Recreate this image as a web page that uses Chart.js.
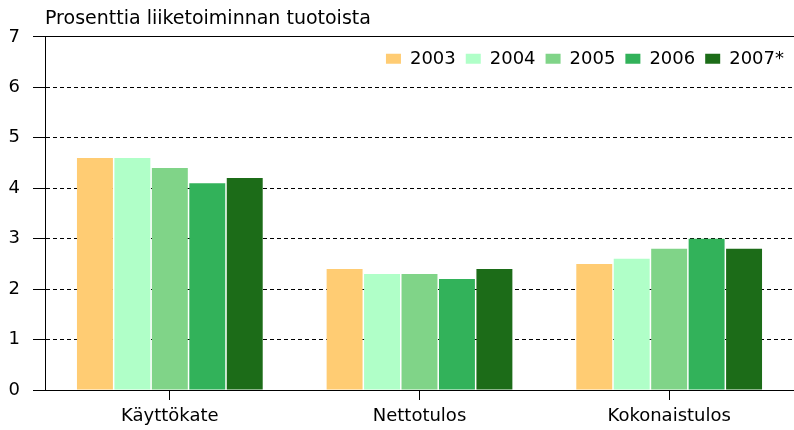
<!DOCTYPE html>
<html>
<head>
<meta charset="utf-8">
<script src="https://cdn.jsdelivr.net/npm/chart.js@4/dist/chart.umd.min.js"></script>
<style>
  html, body { margin: 0; padding: 0; background: #fff; }
  #wrap { width: 794px; height: 430px; position: relative; }
</style>
</head>
<body>
<div id="wrap"><canvas id="chart"></canvas></div>
<script>
const categories = ['Käyttökate', 'Nettotulos', 'Kokonaistulos'];
const years = ['2003', '2004', '2005', '2006', '2007*'];
const values2003 = [4.6, 2.4, 2.5];
const values2004 = [4.6, 2.3, 2.6];
const values2005 = [4.4, 2.3, 2.8];
const values2006 = [4.1, 2.2, 3.0];
const values2007 = [4.2, 2.4, 2.8];
const yTicks = [0, 1, 2, 3, 4, 5, 6, 7];
const yTitle = 'Prosenttia liiketoiminnan tuotoista';

const colors = ['#ffcc73', '#b0ffc8', '#80d488', '#32b25a', '#1c6c18'];
const series = [values2003, values2004, values2005, values2006, values2007];
const font = 'DejaVu Sans';

// legend sits inside the plot area, top right
const legendInside = {
  id: 'legendInside',
  beforeLayout(chart) {
    const lg = chart.legend;
    if (!lg || lg._patched) return;
    const fit = lg.fit;
    lg.fit = function () {
      fit.call(this);
      this._fullHeight = this.height;
      this.height = 0;
    };
    lg._patched = true;
  },
  afterUpdate(chart) {
    const lg = chart.legend;
    if (!lg) return;
    lg.top = chart.chartArea.top + 3;
    lg.height = lg._fullHeight || 0;
    lg.bottom = lg.top + lg.height;
    lg.adjustHitBoxes();
  }
};

new Chart(document.getElementById('chart'), {
  type: 'bar',
  data: {
    labels: categories,
    datasets: years.map((y, i) => ({
      label: y,
      data: series[i],
      backgroundColor: colors[i],
      borderWidth: 0,
      categoryPercentage: 0.75,
      barPercentage: 0.96
    }))
  },
  options: {
    responsive: true,
    maintainAspectRatio: false,
    animation: false,
    layout: { padding: { left: 8, right: 0, top: 0, bottom: 2 } },
    plugins: {
      title: {
        display: true,
        text: yTitle,
        align: 'start',
        fullSize: false,
        color: '#000',
        font: { family: font, size: 19, weight: 'normal', lineHeight: 1.15 },
        padding: { top: 8, bottom: 7 }
      },
      legend: {
        position: 'top',
        align: 'end',
        labels: {
          color: '#000',
          font: { family: font, size: 18 },
          boxWidth: 15,
          boxHeight: 10,
          padding: 10
        }
      },
      tooltip: { enabled: false }
    },
    scales: {
      x: {
        afterFit: (scale) => { scale.height = 38; },
        grid: {
          offset: false,
          drawOnChartArea: false,
          color: '#000',
          tickLength: 10
        },
        border: { color: '#000', width: 1 },
        ticks: {
          color: '#000',
          font: { family: font, size: 18 },
          padding: 6,
          maxRotation: 0
        }
      },
      y: {
        min: 0,
        max: 7,
        afterBuildTicks: (scale) => { scale.ticks = yTicks.map(v => ({ value: v })); },
        afterFit: (scale) => { scale.width = 37; },
        grid: {
          color: '#000',
          lineWidth: 1,
          tickLength: 12
        },
        border: {
          color: '#000',
          width: 1,
          dash: (ctx) => (ctx.tick && ctx.tick.value > 0 && ctx.tick.value < 7) ? [4, 3] : []
        },
        ticks: {
          color: '#000',
          font: { family: font, size: 18 },
          padding: 13
        }
      }
    }
  },
  plugins: [legendInside]
});
</script>
</body>
</html>
